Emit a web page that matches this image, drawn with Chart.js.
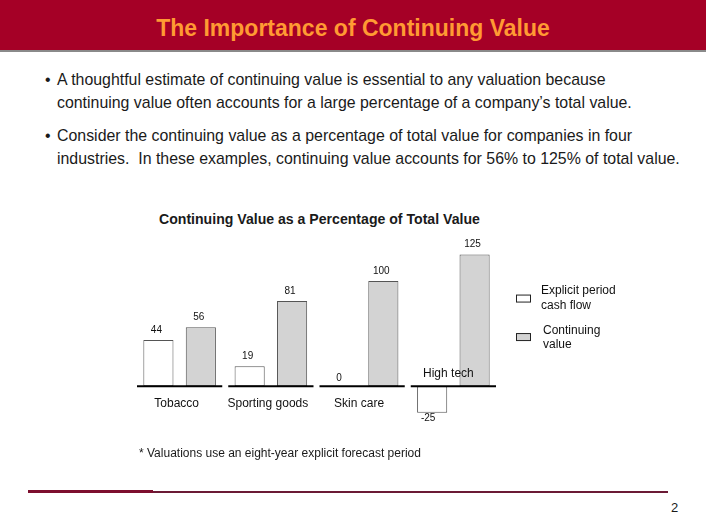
<!DOCTYPE html>
<html lang="en">
<head>
    <meta charset="UTF-8">
    <script src="https://cdn.jsdelivr.net/npm/chart.js@4.4.1/dist/chart.umd.min.js"></script>
    <title>The Importance of Continuing Value</title>
    <style>
        body { margin: 0; width: 706px; height: 529px; background: #fff; position: relative; overflow: hidden;
               font-family: "Liberation Sans", Arial, sans-serif; color: #1a1a1a; }
        #header { position: absolute; left: 0; top: 0; width: 706px; height: 50px; background: #a50026;
                  border-bottom: 2px solid #8a8a8a; }
        #header h1 { margin: 0; font-size: 23px; font-weight: bold; color: #ff9a33; text-align: center;
                     line-height: 57px; }
        .bullet { position: absolute; left: 45px; font-size: 15.9px; line-height: 23px; }
        .bullet span { position: absolute; left: 0; }
        .bullet div { margin-left: 12px; }
        #ctitle { position: absolute; left: 159px; top: 211px; font-size: 14.1px; font-weight: bold; }
        #note { position: absolute; left: 139px; top: 446px; font-size: 12px; }
        #rule1 { position: absolute; left: 28px; top: 490px; width: 125px; height: 3px; background: #7d0f2e; }
        #rule2 { position: absolute; left: 153px; top: 491px; width: 515px; height: 2px; background: #6b1a35; }
        #page { position: absolute; left: 671px; top: 500px; font-size: 13px; }
        #wrap { position: absolute; left: 130px; top: 200px; width: 540px; height: 260px; }
    </style>
</head>
<body>
    <div id="header"><h1>The Importance of Continuing Value</h1></div>
    <div class="bullet" style="top: 68px;"><span>•</span><div>A thoughtful estimate of continuing value is essential to any valuation because<br>continuing value often accounts for a large percentage of a company’s total value.</div></div>
    <div class="bullet" style="top: 124px;"><span>•</span><div>Consider the continuing value as a percentage of total value for companies in four<br>industries.&nbsp; In these examples, continuing value accounts for 56% to 125% of total value.</div></div>
    <div id="ctitle">Continuing Value as a Percentage of Total Value</div>
    <div id="wrap"><canvas id="chart" width="540" height="260"></canvas></div>
    <div id="note">* Valuations use an eight-year explicit forecast period</div>
    <div id="rule1"></div><div id="rule2"></div>
    <div id="page">2</div>

    <script>
        const industries = ['Tobacco', 'Sporting goods', 'Skin care', 'High tech'];
        const explicitPeriod = [44, 19, 0, -25];
        const continuingValue = [56, 81, 100, 125];
        const seriesNames = [['Explicit period', 'cash flow'], ['Continuing', 'value']];

        // separate baseline under each industry, category names, value labels and legend
        const decorations = {
            id: 'decorations',
            afterDatasetsDraw(chart) {
                const ctx = chart.ctx;
                const x = chart.scales.x;
                const y = chart.scales.y;
                const zero = y.getPixelForValue(0);
                const half = x.width / industries.length / 2;

                ctx.save();
                ctx.strokeStyle = '#000';
                ctx.lineWidth = 2;
                industries.forEach((name, i) => {
                    const c = x.getPixelForValue(i);
                    ctx.beginPath();
                    ctx.moveTo(c - half + 3, zero);
                    ctx.lineTo(c + half - 3, zero);
                    ctx.stroke();
                });

                ctx.fillStyle = '#111';
                ctx.font = '12px "Liberation Sans", Arial, sans-serif';
                ctx.textAlign = 'center';
                industries.forEach((name, i) => {
                    const c = x.getPixelForValue(i);
                    if (explicitPeriod[i] < 0) {
                        ctx.textBaseline = 'bottom';
                        ctx.fillText(name, c - 5, zero - 7);
                    } else {
                        ctx.textBaseline = 'top';
                        ctx.fillText(name, c - 3, zero + 11);
                    }
                });

                ctx.font = '10px "Liberation Sans", Arial, sans-serif';
                chart.data.datasets.forEach((ds, d) => {
                    chart.getDatasetMeta(d).data.forEach((bar, i) => {
                        const v = ds.data[i];
                        if (v < 0) {
                            ctx.textBaseline = 'top';
                            ctx.fillText(String(v), bar.x - 4, bar.y + 1);
                        } else {
                            ctx.textBaseline = 'bottom';
                            ctx.fillText(String(v), bar.x - 2, bar.y - (v === 0 ? 3 : 5));
                        }
                    });
                });

                // legend
                ctx.font = '12px "Liberation Sans", Arial, sans-serif';
                ctx.textAlign = 'left';
                ctx.textBaseline = 'middle';
                const lx = chart.chartArea.right + 17;
                const tops = [y.getPixelForValue(88), y.getPixelForValue(51.5)];
                chart.data.datasets.forEach((ds, d) => {
                    const ty = tops[d];
                    ctx.fillStyle = ds.backgroundColor;
                    ctx.strokeStyle = '#222';
                    ctx.lineWidth = 1;
                    ctx.fillRect(lx + 0.5, ty + 1.5, 14, 7);
                    ctx.strokeRect(lx + 0.5, ty + 1.5, 14, 7);
                    ctx.fillStyle = '#111';
                    seriesNames[d].forEach((line, k) => {
                        ctx.fillText(line, lx + 25 + d * 2, ty - 2.5 + k * 14.5 + d);
                    });
                });
                ctx.restore();
            }
        };

        new Chart(document.getElementById('chart'), {
            type: 'bar',
            data: {
                labels: industries,
                datasets: [
                    {
                        label: 'Explicit period cash flow',
                        data: explicitPeriod,
                        backgroundColor: '#ffffff',
                        borderColor: '#555555',
                        borderWidth: 1,
                        borderSkipped: false
                    },
                    {
                        label: 'Continuing value',
                        data: continuingValue,
                        backgroundColor: '#d3d3d3',
                        borderColor: '#555555',
                        borderWidth: 1,
                        borderSkipped: false
                    }
                ]
            },
            options: {
                responsive: false,
                animation: false,
                datasets: { bar: { categoryPercentage: 0.93, barPercentage: 0.71 } },
                layout: { padding: { left: 4, right: 171, top: 44, bottom: 42 } },
                plugins: { legend: { display: false }, title: { display: false }, tooltip: { enabled: false } },
                scales: {
                    x: { display: false },
                    y: { display: false, min: -30, max: 135 }
                }
            },
            plugins: [decorations]
        });
    </script>
</body>
</html>
